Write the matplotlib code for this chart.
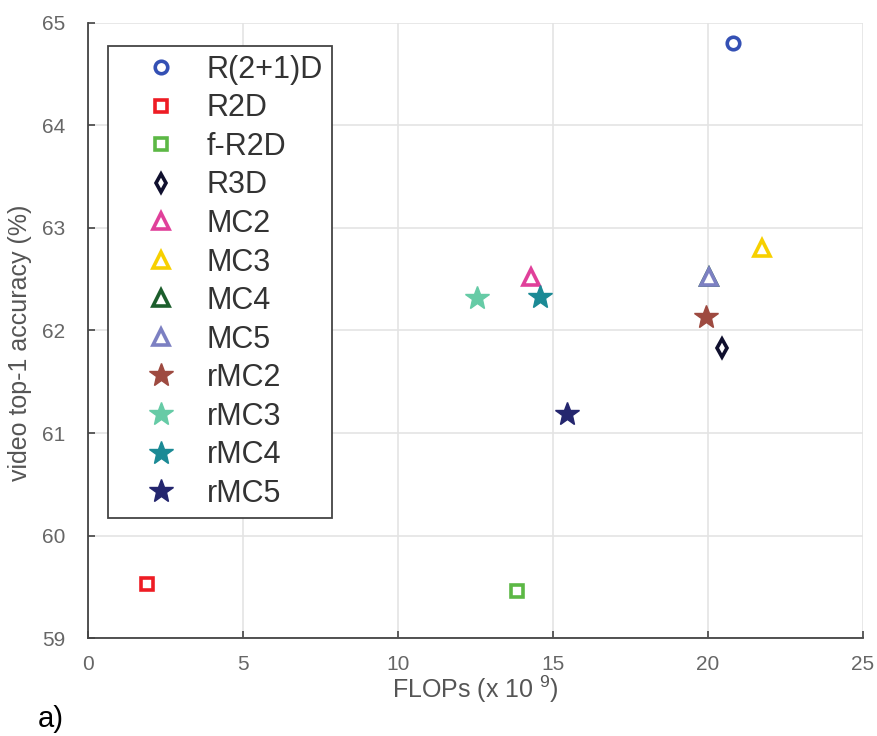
import matplotlib
matplotlib.use("Agg")
import matplotlib.pyplot as plt

plt.rcParams['font.family'] = ['Liberation Sans', 'DejaVu Sans']
plt.rcParams['mathtext.fontset'] = 'custom'
plt.rcParams['mathtext.rm'] = 'Liberation Sans'

# model names, FLOPs (x 1e9) and video top-1 accuracy
models = ['R(2+1)D', 'R2D', 'f-R2D', 'R3D', 'MC2', 'MC3', 'MC4', 'MC5',
          'rMC2', 'rMC3', 'rMC4', 'rMC5']
flops = [20.8, 1.9, 13.85, 20.45, 14.3, 21.75, 20.05, 20.05,
         19.95, 12.55, 14.6, 15.45]
accuracy = [64.8, 59.53, 59.46, 61.83, 62.52, 62.8, 62.52, 62.52,
            62.13, 62.32, 62.33, 61.19]

markers = ['o', 's', 's', 'd', '^', '^', '^', '^', '*', '*', '*', '*']
colors = ['#3450b4', '#ee1c24', '#5cb845', '#10102e', '#e0409a', '#f7d000',
          '#1c5e2c', '#7c80c2', '#9e4a40', '#66cba6', '#1b8a95', '#24266e']

fig = plt.figure(figsize=(8.77, 7.36), dpi=100)
ax = fig.add_axes([0.1, 0.133, 0.884, 0.836])

for name, x, y, m, c in zip(models, flops, accuracy, markers, colors):
    if m == '*':
        ax.plot(x, y, linestyle='none', marker=m, markersize=18,
                color=c, markeredgecolor=c, label=name)
    else:
        size = {'o': 9, 's': 8, 'd': 9, '^': 12}[m]
        ax.plot(x, y, linestyle='none', marker=m, markersize=size,
                markerfacecolor='white', markeredgecolor=c,
                markeredgewidth=2.6, label=name)

ax.set_xlim(0, 25)
ax.set_ylim(59, 65)
ax.set_xticks([0, 5, 10, 15, 20, 25])
ax.set_yticks([59, 60, 61, 62, 63, 64, 65])
ax.grid(True, color='#e4e4e4', linewidth=1.2)
ax.set_axisbelow(True)
for side in ['top', 'right']:
    ax.spines[side].set_visible(False)
for side in ['left', 'bottom']:
    ax.spines[side].set_color('#444444')
    ax.spines[side].set_linewidth(1.3)
ax.tick_params(direction='in', length=5, width=1.2, color='#444444',
               labelsize=15, labelcolor='#666666')
ax.tick_params(axis='x', pad=12)
ax.tick_params(axis='y', pad=16)

ax.set_xlabel('FLOPs (x 10 $^{9}$)', fontsize=18, color='#555555', labelpad=0)
ax.set_ylabel('video top-1 accuracy (%)', fontsize=18, color='#555555',
              labelpad=4)
ax.yaxis.set_label_coords(-0.072, 0.48)

leg = ax.legend(loc='upper left', bbox_to_anchor=(0.026, 0.963),
                fontsize=22, fancybox=False, framealpha=1,
                edgecolor='#444444', borderpad=0.3, labelspacing=0.28,
                handletextpad=0.08, borderaxespad=0, handlelength=2.85)
leg.get_frame().set_linewidth(1.3)
for t in leg.get_texts():
    t.set_color('#333333')

fig.text(0.043, 0.012, 'a)', fontsize=21, color='black')

fig.savefig('out.png', dpi=100)
